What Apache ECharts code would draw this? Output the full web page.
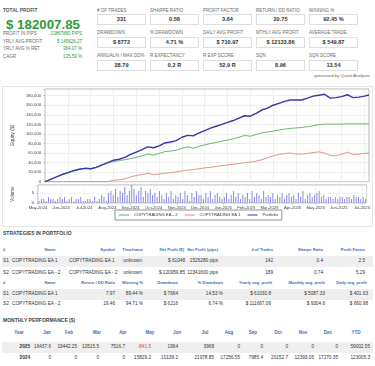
<!DOCTYPE html>
<html><head><meta charset="utf-8">
<script src="https://cdn.jsdelivr.net/npm/echarts@6/dist/echarts.min.js"></script>
<style>
html,body{margin:0;padding:0;background:#fff}
body{width:375px;height:366px;overflow:hidden;position:relative;font-family:"Liberation Sans",Arial,sans-serif}
.t{position:absolute;white-space:nowrap;line-height:1;transform:translateY(-50%)}
.c{transform:translate(-50%,-50%)}
.box{position:absolute;border:1px solid #dedede;box-sizing:border-box;background:#fff}
.shade{position:absolute;left:2px;width:371px;background:#efefef}
</style></head><body>
<div id="page"></div>
<div style="position:absolute;left:2px;top:86px;width:371px;height:141px;border:1px solid #e6e6e6;box-sizing:border-box"></div>
<div id="chart" style="position:absolute;left:2px;top:86px;width:371px;height:141px;"></div>
<script>
// ---------- data ----------
const totalProfit = '$ 182007.85';
const summaryLabels = ['PROFIT IN PIPS','YRLY AVG PROFIT','YRLY AVG % RET','CAGR'];
const summaryValues = ['13867880 PIPS','$ 145626.27','364.07 %','135.59 %'];
const metricLabels = [
  ['# OF TRADES','SHARPE RATIO','PROFIT FACTOR','RETURN / DD RATIO','WINNING %'],
  ['DRAWDOWN','% DRAWDOWN','DAILY AVG PROFIT','MTHLY AVG PROFIT','AVERAGE TRADE'],
  ['ANNUAL% / MAX DD%','R EXPECTANCY','R EXP SCORE','SQN','SQN SCORE']];
const metricValues = [
  ['331','0.58','3.64','20.75','92.45 %'],
  ['$ 8772','4.71 %','$ 710.97','$ 12133.86','$ 549.87'],
  ['28.79','0.2 R','52.9 R','8.96','13.54']];

const months = ['May-2024','Jun-2024','Jul-2024','Aug-2024','Sep-2024','Oct-2024','Nov-2024','Dec-2024','Jan-2025','Feb-2025','Mar-2025','Apr-2025','May-2025','Jun-2025','Jul-2025'];
// position in months after 1 May 2024
const monthOffset = [0,0.25,0.5,0.75,1,1.25,1.5,1.75,2,2.25,2.5,2.75,3,3.25,3.5,3.75,4,4.25,4.5,4.75,5,5.25,5.5,5.75,6,6.25,6.5,6.75,7,7.25,7.5,7.75,8,8.25,8.5,8.75,9,9.25,9.5,9.75,10,10.25,10.5,10.75,11,11.25,11.5,11.75,12,12.25,12.5,12.75,13,13.25,13.5,13.75,14,14.2];
// equity in thousands of $
const portfolioK = [0,5,10,15,19,23,26,28,27,30,35,40,45,47,51,57,62,67,73,71,75,81,83,86,93,97,96,102,107,112,116,120,124,128,133,138,137,143,150,154,160,164,168,171,171,171,175,179,181,183,175,176,178,182,176,177,179,181.5];
const ea2K = [0,5,10,15,19,23,26,28,27,30,35,39.5,42,44,46,48,51,54,58,56,59,63,64,66,70,73,70,74,77,80,82,85,87,90,93,97,95,99,102,104,106,108,110,111.5,112.5,113.5,115,117,119.5,120.5,120.5,120.5,120.5,121,121,121,121,121];
const ea1K = [0,0,0,0,0,0,0,0,0,0,0,0.3,3,4,6,10,13,15,17.5,15,16,17.5,19,20.5,22.5,24,25.5,27,29,30,32,33.5,35,36.5,38,40,41,43,46,50,54,57,59,60,58,57.5,59,61,62.5,60,55,54.5,57,62,57,58,59,60.5];
// trade volume, one bar per tenth of a month
const volume = [
 1,2,2,1,3,2,2,1,2,3,
 2,3,1,2,3,1,2,2,3,1,
 1,2,2,1,3,1,2,4,3,1,
 5,6,4,7,3,6,5,8,4,6,
 9,7,4,6,8,3,6,5,7,4,
 5,3,6,4,2,5,3,6,2,4,
 3,5,2,6,4,1,5,3,6,4,
 4,2,5,3,6,2,4,5,3,2,
 3,5,2,4,6,3,5,2,4,3,
 5,2,6,3,5,4,2,6,3,4,
 3,5,2,4,3,5,2,4,5,3,
 4,2,5,3,6,2,4,5,3,4,
 5,6,3,4,2,3,3,2,3,2,
 3,3,2,3,3,2,4,3,3,2,
 3,2];
const yTicks = 20000;

const stratHead1 = ['#','Name','Symbol','Timeframe','Net Profit ($)','Net Profit (pips)','# of Trades','Sharpe Ratio','Profit Factor'];
const stratRows1 = [
  ['S1','COPYTRADING EA 1','COPYTRADING EA 1','unknown','$ 61048','1526280 pips','142','0.4','2.5'],
  ['S2','COPYTRADING EA - 2','COPYTRADING EA - 2','unknown','$ 120959.85','12341600 pips','189','0.74','5.29']];
const stratHead2 = ['#','Name','Return / DD Ratio','Winning %','Drawdown','% Drawdown','Yearly avg. profit','Monthly avg. profit','Daily avg. profit'];
const stratRows2 = [
  ['S1','COPYTRADING EA 1','7.97','89.44 %','$ 7664','14.53 %','$ 61030.8','$ 5087.33','$ 401.63'],
  ['S2','COPYTRADING EA - 2','19.46','94.71 %','$ 6216','6.74 %','$ 111667.06','$ 9304.6','$ 660.98']];
const monthHead = ['Year','Jan','Feb','Mar','Apr','May','Jun','Jul','Aug','Sep','Oct','Nov','Dec','YTD'];
const monthRows = [
  ['2025','16437.6','19442.25','10515.5','7516.7','-841.5','1964','3968','0','0','0','0','0','59002.55'],
  ['2024','0','0','0','0','15829.2','10139.2','21978.85','17256.55','7985.4','20152.7','12393.05','17270.35','123005.3']];

// ---------- page layout ----------
const page = document.getElementById('page');
function txt(s, x, y, o) {
  o = o || {};
  const e = document.createElement('div');
  e.className = 't' + (o.align === 'center' ? ' c' : '');
  e.textContent = s;
  if (o.align === 'right') e.style.right = (375 - x) + 'px'; else e.style.left = x + 'px';
  e.style.top = y + 'px';
  e.style.fontSize = (o.size || 5) + 'px';
  e.style.color = o.color || '#333';
  if (o.bold) e.style.fontWeight = 'bold';
  page.appendChild(e);
  return e;
}
function div(cls, x, y, w, h) {
  const e = document.createElement('div');
  e.className = cls;
  if (x !== null) e.style.left = x + 'px';
  e.style.top = y + 'px';
  if (w !== null) e.style.width = w + 'px';
  e.style.height = h + 'px';
  page.appendChild(e);
}
const GREEN = '#2f9b37', HEAD = '#3f6fb5', LBL = '#6a6a6a';

txt('TOTAL PROFIT', 3, 11, {size: 4.8, bold: true, color: '#555'});
txt(totalProfit, 6, 24.5, {size: 13.3, bold: true, color: GREEN});
const sumY = [34.3, 42, 49.3, 56.7];
summaryLabels.forEach((l, i) => {
  txt(l, 3, sumY[i], {size: 4.5, color: LBL});
  txt(summaryValues[i], 82, sumY[i], {size: 4.5, color: GREEN, align: 'right'});
});
const colX = [97, 150, 203, 256, 309];
const lblY = [11, 33.3, 56], boxY = [14, 37, 60];
metricLabels.forEach((row, r) => row.forEach((l, c) => {
  txt(l, colX[c], lblY[r], {size: 4.5, color: LBL});
  div('box', colX[c], boxY[r], 49, 11);
  txt(metricValues[r][c], colX[c] + 24.5, boxY[r] + 5.6, {size: 5.6, bold: true, align: 'center', color: '#333'});
}));
txt('generated by Quant Analyzer', 370, 76, {size: 4.3, color: '#666', align: 'right'});

// strategies tables
txt('STRATEGIES IN PORTFOLIO', 3, 233, {size: 5, bold: true, color: '#444'});
const hdr1 = [[3,'l'],[50,'c'],[115,'r'],[143,'r'],[184,'r'],[218,'r'],[273,'r'],[323,'r'],[365,'r']];
const val1 = [[3,'l'],[12,'l'],[69,'l'],[142,'r'],[185,'r'],[218,'r'],[273,'r'],[323,'r'],[365,'r']];
const hdr2 = [[3,'l'],[50,'c'],[115,'r'],[143,'r'],[178,'r'],[223,'r'],[272,'r'],[325,'r'],[367,'r']];
const val2 = [[3,'l'],[12,'l'],[115,'r'],[143,'r'],[178,'r'],[223,'r'],[271,'r'],[325,'r'],[368,'r']];
const AL = {l: 'left', c: 'center', r: 'right'};
function rowOut(cells, pos, y, o) {
  cells.forEach((s, i) => txt(s, pos[i][0], y, Object.assign({align: AL[pos[i][1]]}, o)));
}
const VS = 4.7, HS = 4.1;
div('shade', null, 256, null, 10.5);
div('shade', null, 289, null, 10.5);
rowOut(stratHead1, hdr1, 250, {size: HS, bold: true, color: HEAD});
rowOut(stratRows1[0], val1, 261.2, {size: VS, color: '#333'});
rowOut(stratRows1[1], val1, 272.5, {size: VS, color: '#333'});
rowOut(stratHead2, hdr2, 283, {size: HS, bold: true, color: HEAD});
rowOut(stratRows2[0], val2, 294.2, {size: VS, color: '#333'});
rowOut(stratRows2[1], val2, 303.5, {size: VS, color: '#333'});

// monthly table
txt('MONTHLY PERFORMANCE ($)', 3, 320, {size: 5, bold: true, color: '#444'});
const mHead = [19,47,69,97,123,150,177,205,229,253,278,303,328,356];
const mVal = [30,51,77,99,125,151,178,214,240,263,288,314,338,370];
mHead.forEach((x, i) => txt(monthHead[i], x, 333, {size: 4.5, bold: true, color: HEAD, align: 'center'}));
div('shade', null, 342, null, 10.5);
monthRows.forEach((row, r) => row.forEach((s, i) => {
  const neg = s.charAt(0) === '-';
  txt(s, mVal[i], r === 0 ? 347.2 : 357.5, {size: 4.7, align: 'right', color: neg ? '#e0403a' : '#333', bold: i === 0});
}));

// ---------- chart ----------
function fmt(v) { return String(v).replace(/\B(?=(\d{3})+(?!\d))/g, ','); }
function pairs(arr) { return arr.map((v, i) => [monthOffset[i], v * 1000]); }
const chart = echarts.init(document.getElementById('chart'), null, {renderer: 'canvas'});
const axisText = {fontSize: 4.2, color: '#444', fontFamily: 'Liberation Sans'};
chart.setOption({
  animation: false,
  textStyle: {fontFamily: 'Liberation Sans'},
  grid: [
    {left: 36, right: 4, top: 3, height: 92.7, show: true, borderColor: '#a0a0a0', borderWidth: 0.8, containLabel: false},
    {left: 36, right: 4, top: 99, height: 18, show: true, borderColor: '#a0a0a0', borderWidth: 0.8, containLabel: false}
  ],
  xAxis: [
    {gridIndex: 0, type: 'value', min: 0, max: 14.2, interval: 1,
     axisLabel: {show: false}, axisTick: {show: false}, axisLine: {show: false},
     splitLine: {show: true, lineStyle: {color: '#e4e4e4', width: 0.6}}},
    {gridIndex: 1, type: 'value', min: 0, max: 14.2, interval: 1,
     axisLabel: Object.assign({margin: 3, showMaxLabel: false,
       formatter: v => (Number.isInteger(v) && v < months.length) ? months[v] : ''}, axisText),
     axisTick: {show: true, length: 1.5, lineStyle: {color: '#999', width: 0.6}}, axisLine: {show: false},
     splitLine: {show: true, lineStyle: {color: '#ececec', width: 0.6}}}
  ],
  yAxis: [
    {gridIndex: 0, type: 'value', min: 0, max: 194000, interval: yTicks,
     name: 'Equity ($)', nameLocation: 'middle', nameGap: 23,
     nameTextStyle: {fontSize: 5, color: '#444', fontFamily: 'Liberation Sans'},
     axisLabel: Object.assign({margin: 4, formatter: v => v % yTicks === 0 ? fmt(v) : ''}, axisText),
     axisTick: {show: true, length: 1.5, lineStyle: {color: '#999', width: 0.6}}, axisLine: {show: false},
     splitLine: {show: true, lineStyle: {color: '#e4e4e4', width: 0.6}}},
    {gridIndex: 1, type: 'value', min: 0, max: 9, interval: 5,
     name: 'Volume', nameLocation: 'middle', nameGap: 23,
     nameTextStyle: {fontSize: 4.6, color: '#444', fontFamily: 'Liberation Sans'},
     axisLabel: Object.assign({margin: 4, formatter: v => v % 5 === 0 ? String(v) : ''}, axisText),
     axisTick: {show: true, length: 1.5, lineStyle: {color: '#999', width: 0.6}}, axisLine: {show: false},
     splitLine: {show: true, lineStyle: {color: '#ececec', width: 0.6}}}
  ],
  legend: {
    left: 113, top: 124, orient: 'horizontal', icon: 'rect', itemWidth: 10, itemHeight: 1, itemGap: 7,
    data: ['COPYTRADING EA - 2', 'COPYTRADING EA 1', 'Portfolio'],
    textStyle: {fontSize: 4.2, color: '#333', fontFamily: 'Liberation Sans'},
    borderColor: '#777', borderWidth: 0.8, padding: [3, 4], backgroundColor: '#fff'
  },
  series: [
    {name: 'COPYTRADING EA - 2', type: 'line', xAxisIndex: 0, yAxisIndex: 0, data: pairs(ea2K),
     symbol: 'none', showSymbol: false, lineStyle: {color: '#5cae5c', width: 0.9}, itemStyle: {color: '#5cae5c'}, z: 3},
    {name: 'COPYTRADING EA 1', type: 'line', xAxisIndex: 0, yAxisIndex: 0, data: pairs(ea1K),
     symbol: 'none', showSymbol: false, lineStyle: {color: '#df8a78', width: 0.9}, itemStyle: {color: '#df8a78'}, z: 3},
    {name: 'Portfolio', type: 'line', xAxisIndex: 0, yAxisIndex: 0, data: pairs(portfolioK),
     symbol: 'none', showSymbol: false, lineStyle: {color: '#3636a8', width: 1.4}, itemStyle: {color: '#3636a8'}, z: 4},
    {name: 'Volume', type: 'bar', xAxisIndex: 1, yAxisIndex: 1,
     data: volume.map((v, i) => [(i + 0.5) / 10, v]), barWidth: 0.9,
     itemStyle: {color: '#8c8ce0'}, silent: true}
  ]
});
</script>
</body></html>
